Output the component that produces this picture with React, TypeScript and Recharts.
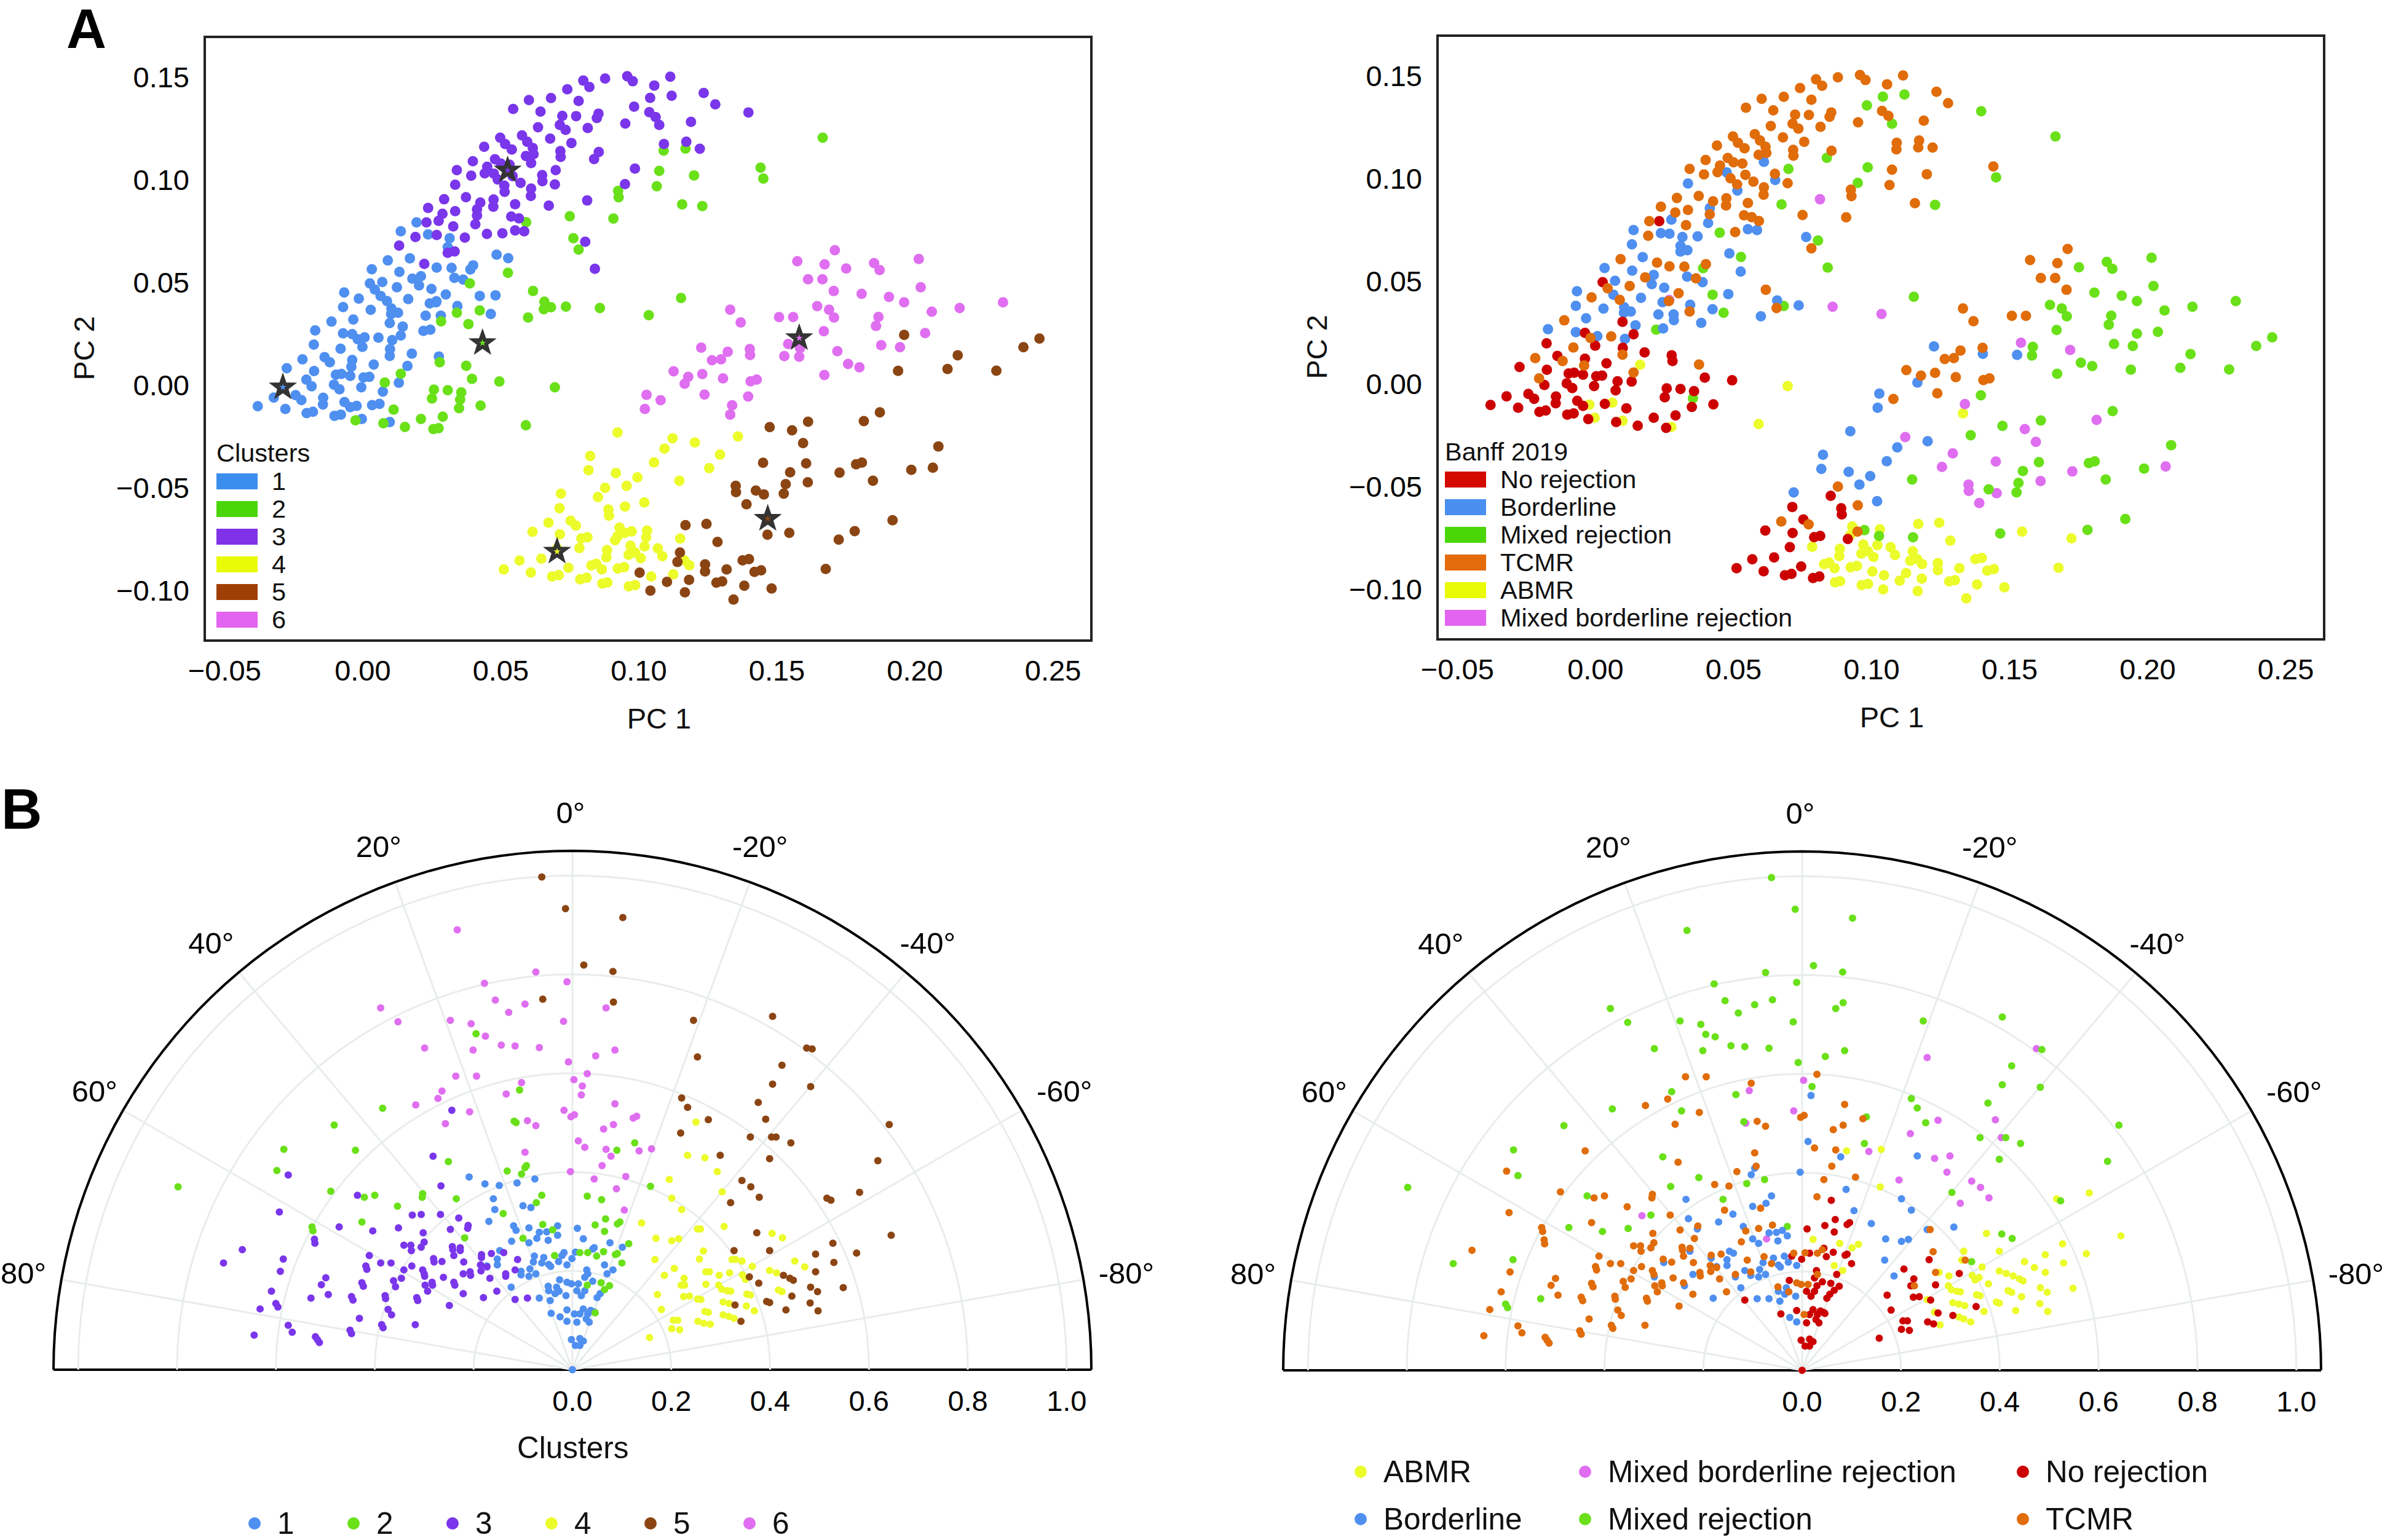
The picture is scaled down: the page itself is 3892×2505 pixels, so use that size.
import { ScatterChart, Scatter, XAxis, YAxis, ReferenceArea, ReferenceDot } from 'recharts';

const FONT = '"Liberation Sans", Arial, sans-serif';

// Banff class codes
const A = 'ABMR';
const B = 'Borderline';
const M = 'Mixed rejection';
const X = 'Mixed borderline rejection';
const N = 'No rejection';
const T = 'TCMR';

type Row = [number, number, string];

// PCA scores per cluster, PC 1 and PC 2 x 10^4, then Banff class
const pcaCluster1: Row[] = [
  [195,791,T],[138,748,B],[237,733,B],[315,714,B],[308,671,B],[171,616,B],[91,606,T],[268,571,T],[322,570,T],[400,582,T],[390,562,M],[485,634,B],[527,617,M],[33,563,B],[133,550,B],[180,517,T],[211,529,B],[204,484,B],[332,521,B],[364,513,T],[71,501,B],[26,494,N],[44,464,T],[124,475,T],[249,467,B],[-67,450,B],[-14,420,T],[65,433,B],[88,408,T],[165,418,B],[301,440,T],[424,433,M],[481,436,B],[267,407,X],[243,397,B],[266,402,T],[-71,379,B],[29,365,B],[104,372,B],[128,351,B],[103,345,B],[343,384,B],[464,345,M],[228,337,B],[283,337,B],[-34,318,B],[-113,308,T],[98,301,N],[145,284,B],[-172,265,B],[-71,251,B],[-38,247,N],[-18,222,T],[7,231,B],[57,230,T],[138,240,N],[220,263,M],[245,269,B],[107,218,B],[-177,196,N],[-80,176,T],[-1,185,N],[99,174,N],[98,141,T],[178,152,N],[276,138,N],[-218,124,T],[-138,135,N],[-119,110,T],[-38,121,N],[-41,88,T],[40,99,N],[162,92,A],[-275,81,N],[-176,67,N],[-97,49,N],[-77,53,N],[-45,43,N],[3,36,N],[24,39,N],[-204,25,T],[-185,-7,N],[-104,1,N],[-84,-22,N],[-5,-12,N],[131,10,N],[73,-33,N],[-243,-50,N],[-222,-74,N],[-322,-62,N],[-143,-63,N],[-144,-96,N],[-66,-84,N],[-45,-109,N],[-22,-103,A],[34,-99,N],[61,-93,A],[-380,-104,N],[-280,-118,N],[-203,-138,N],[-180,-131,N],[-102,-151,N],[-79,-145,N],[-3,-166,A],[98,-181,A],
];
const pcaCluster2: Row[] = [
  [1090,1141,T],[1169,1151,T],[1074,1042,T],[1200,1020,T],[1065,967,T],[925,945,T],[927,913,T],[1157,879,T],[750,821,T],[908,810,T],[592,792,T],[763,714,B],[782,659,T],[526,546,B],[388,494,B],[617,457,T],[1153,423,M],[658,405,B],[682,378,M],[656,368,T],[736,381,B],[859,374,X],[1036,339,X],[424,362,B],[341,351,T],[599,328,B],[284,309,B],[383,296,B],[279,110,N],[375,93,T],[138,54,T],[396,29,N],[495,16,N],[80,11,N],[696,-12,A],[258,-23,N],[308,-26,N],[357,-37,N],[251,-67,N],[353,-72,M],[349,-114,N],[427,-101,N],[112,-121,N],[290,-155,N],[211,-166,N],[-26,-173,N],[75,-187,N],[153,-205,N],[256,-216,N],[275,-211,A],[591,-197,A],[1441,1058,T],[1451,1005,M],[1666,1204,M],[1230,871,M],
];
const pcaCluster3: Row[] = [
  [545,1344,T],[602,1387,T],[682,1397,T],[741,1440,T],[799,1482,T],[821,1451,T],[878,1492,T],[958,1503,T],[978,1479,T],[1056,1458,T],[1114,1501,T],[1041,1398,M],[1119,1408,M],[983,1355,M],[782,1383,T],[644,1331,T],[723,1310,T],[773,1309,T],[854,1321,T],[848,1300,T],[1038,1328,T],[1061,1304,T],[1074,1266,M],[951,1273,T],[1189,1281,T],[635,1255,T],[714,1266,T],[735,1242,T],[815,1251,T],[577,1215,T],[596,1184,T],[679,1199,T],[756,1178,T],[1091,1173,T],[1172,1184,T],[498,1204,T],[516,1173,T],[540,1146,T],[440,1160,T],[616,1154,T],[619,1124,T],[591,1115,T],[716,1139,T],[717,1110,T],[855,1134,T],[838,1100,M],[610,1080,B],[399,1089,T],[479,1099,T],[500,1078,T],[532,1072,T],[451,1062,T],[442,1030,T],[475,1029,B],[341,1046,T],[393,1019,T],[489,1000,T],[543,1017,T],[572,984,T],[650,1022,T],[651,992,B],[699,1046,M],[696,976,T],[986,1053,M],[513,970,T],[514,940,B],[335,975,B],[610,956,T],[609,920,T],[950,978,M],[295,904,T],[374,914,T],[474,903,T],[473,868,T],[426,888,T],[552,880,T],[674,873,M],[813,898,X],[237,862,T],[335,846,T],[414,855,B],[414,825,T],[289,833,T],[275,799,B],[231,791,N],[408,782,B],[328,772,T],[538,820,T],[566,811,T],[191,720,T],[268,730,B],[370,717,B],[450,735,M],[506,738,T],[552,752,B],[585,748,B],[132,678,B],[308,643,B],[333,650,B],[806,697,M],[223,589,T],[841,565,M],[1235,1422,T],[1277,1366,T],[1397,1327,M],[1221,1150,T],
];
const pcaCluster4: Row[] = [
  [923,-232,B],[1122,-261,X],[1203,-281,B],[1359,-252,M],[1093,-311,B],[1294,-340,X],[824,-347,B],[1055,-378,B],[1255,-406,X],[818,-416,B],[917,-430,B],[995,-451,B],[1147,-467,M],[878,-502,T],[956,-492,B],[718,-530,B],[852,-547,N],[1020,-573,B],[950,-593,T],[713,-601,N],[890,-607,N],[892,-637,N],[673,-672,T],[753,-662,N],[772,-686,T],[615,-716,N],[714,-728,N],[792,-748,N],[814,-742,N],[930,-696,A],[949,-721,T],[974,-714,M],[1030,-710,A],[1027,-742,M],[923,-738,A],[914,-757,N],[1150,-749,M],[970,-784,A],[1021,-787,A],[785,-795,A],[704,-797,N],[885,-805,A],[1069,-797,A],[1085,-835,A],[987,-817,A],[963,-828,A],[1007,-845,A],[883,-840,A],[1165,-855,A],[1183,-879,A],[647,-847,N],[568,-856,N],[511,-899,N],[609,-914,N],[745,-891,N],[686,-934,N],[710,-927,N],[828,-880,A],[846,-872,A],[866,-899,A],[924,-895,A],[947,-888,A],[1125,-923,A],[1045,-934,A],[788,-947,N],[811,-940,N],[868,-968,A],[886,-963,A],[964,-982,A],[987,-976,A],
];
const pcaCluster5: Row[] = [
  [1961,243,M],[2451,225,M],[2393,183,M],[2155,144,M],[1939,68,M],[2118,77,M],[2295,69,M],[1873,-134,M],[1815,-177,X],[1613,-180,M],[1474,-206,M],[1555,-222,X],[1595,-284,X],[2085,-300,M],[1450,-380,X],[1606,-383,M],[1787,-387,M],[1808,-379,M],[1727,-428,X],[1987,-414,M],[2065,-404,X],[1548,-426,M],[1848,-467,M],[1612,-475,X],[1532,-484,M],[1351,-492,X],[1352,-523,X],[1424,-515,M],[1453,-534,X],[1525,-530,M],[1390,-582,X],[1919,-660,M],[1782,-713,M],[1724,-754,A],[1545,-721,A],[1466,-730,M],[1169,-684,A],[1245,-678,A],[1285,-765,A],[1677,-897,A],[1149,-817,A],[1140,-863,A],[1240,-875,A],[1240,-909,A],[1318,-899,A],[1376,-855,A],[1399,-849,A],[1419,-911,A],[1443,-904,A],[1003,-915,A],[1182,-950,A],[1102,-960,A],[1281,-964,A],[1302,-958,A],[1382,-979,A],[1481,-992,A],[1042,-1003,A],[1167,-1011,A],[1343,-1046,A],
];
const pcaCluster6: Row[] = [
  [1710,656,T],[1574,602,T],[1673,587,T],[1751,567,M],[1852,593,M],[1872,559,M],[2014,613,M],[1613,514,T],[1665,514,T],[1706,457,T],[1807,443,M],[1906,428,M],[1961,402,M],[2021,475,M],[2061,356,M],[2162,374,M],[2319,402,M],[1646,383,M],[1689,366,M],[1707,328,M],[1868,331,M],[1859,287,M],[1331,366,T],[1369,304,T],[1508,330,T],[1559,330,T],[1670,261,M],[2037,252,M],[1541,199,X],[1584,179,M],[1581,137,M],[1527,140,B],[1719,164,X],[1878,193,M],[1946,183,M],[1758,102,M],[1799,85,M],[1672,48,M],[1226,181,B],[1322,161,T],[1403,145,B],[1402,174,T],[1265,120,T],[1298,124,T],[1126,66,T],[1179,39,T],[1166,5,B],[1230,52,T],[1305,31,T],[1405,17,T],[1427,25,T],[1238,-47,T],[1396,-57,M],[1028,-49,B],[1079,-75,T],[1022,-118,B],[1338,-100,X],[1331,-145,A],
];
// cluster representatives marked with a star, same units
const pcaStars: [number, number, number][] = [
  [-289,-12,1],[434,204,2],[525,1045,3],[704,-812,4],[1467,-652,5],[1581,228,6],
];

// polar panels, projected as r*sin(angle) and r*cos(angle), x 10^3
const polarCluster1: Row[] = [
  [-209,390,M],[-177,376,T],[-148,373,T],[-112,378,M],[-76,386,M],[-160,346,M],[-100,332,B],[-84,328,T],[-157,324,T],[-169,300,B],[-119,291,B],[-114,282,T],[-88,287,T],[-30,291,M],[-67,278,B],[-52,279,B],[-72,266,X],[-30,272,B],[-49,262,B],[-123,260,T],[-88,257,B],[-147,241,B],[-17,237,T],[-21,231,N],[-152,224,B],[-152,212,B],[-173,210,B],[-77,230,T],[-79,218,B],[-58,227,B],[-62,216,T],[-48,213,B],[-44,209,B],[-28,219,B],[-11,212,B],[-1,225,N],[-104,199,T],[-104,192,B],[-86,204,B],[-74,194,B],[-88,189,B],[-49,169,T],[-32,167,B],[-48,160,B],[-35,154,B],[-26,182,N],[-11,177,T],[-2,174,T],[-27,159,T],[-13,150,B],[-124,167,B],[-67,145,B],[-45,140,B],[-11,121,N],[-43,114,N],[-25,107,B],[-11,98,B],[4,113,T],[-2,61,N],[0,0,N],[10,286,N],[22,265,A],[76,257,A],[101,248,A],[41,244,T],[44,247,N],[6,238,T],[65,212,A],[82,202,A],[70,194,N],[29,202,N],[31,194,T],[25,187,N],[41,179,N],[12,174,T],[18,150,N],[25,160,N],[9,160,N],[50,146,N],[56,154,N],[37,120,N],[22,123,N],[31,113,N],[15,113,N],[44,117,N],[9,96,N],[34,96,N],[28,103,N],[15,63,N],[6,49,N],[15,49,N],[22,58,N],
];
const polarCluster2: Row[] = [
  [-195,680,M],[-107,566,X],[-384,529,M],[-482,495,M],[-584,446,M],[-439,444,T],[-598,403,T],[-798,370,M],[-489,361,T],[-421,349,T],[-400,353,T],[-303,356,T],[-304,349,T],[-354,331,T],[-235,346,B],[-426,299,T],[-527,289,T],[-525,281,T],[-118,503,M],[-114,500,X],[-251,421,T],[-132,402,T],[-96,409,B],[-93,413,T],[-103,396,B],[-62,353,B],[-73,338,B],[-140,316,B],[-218,267,T],[-60,294,T],[-40,283,B],[-100,266,B],[-36,231,B],[30,351,T],[59,344,N],[67,305,N],[46,293,N],[65,280,N],[91,295,N],[96,299,N],[114,255,A],[63,239,N],[15,237,N],[31,237,T],[49,230,N],[87,233,N],[91,235,N],[100,216,N],[30,171,N],[58,176,N],[75,170,N],[65,162,N],[46,115,N],[158,371,A],[126,459,M],[90,444,A],
];
const polarCluster3: Row[] = [
  [-244,525,M],[-282,432,M],[-575,394,M],[-266,372,M],[-435,353,M],[-593,319,T],[-324,313,X],[-306,314,M],[-267,314,T],[-230,307,B],[-211,292,T],[-212,286,B],[-472,289,M],[-404,281,M],[-352,287,M],[-302,277,T],[-247,284,T],[-522,264,T],[-521,256,T],[-341,252,T],[-327,252,T],[-300,258,T],[-306,248,T],[-326,241,T],[-243,249,T],[-242,243,T],[-227,247,T],[-227,241,B],[-668,243,T],[-706,216,M],[-585,224,M],[-411,231,T],[-240,231,T],[-184,233,T],[-184,227,B],[-164,235,T],[-139,237,B],[-111,223,T],[-281,225,T],[-280,218,B],[-264,219,T],[-220,218,T],[-388,216,T],[-367,216,T],[-325,210,T],[-418,210,T],[-416,203,T],[-186,212,T],[-173,208,T],[-185,200,T],[-116,202,B],[-135,194,T],[-135,189,B],[-341,202,T],[-303,202,T],[-300,194,T],[-299,189,B],[-591,199,T],[-346,185,T],[-221,194,B],[-207,198,T],[-206,191,T],[-261,187,T],[-167,185,T],[-362,180,T],[-499,186,T],[-426,176,T],[-423,169,T],[-508,172,T],[-240,177,T],[-238,171,B],[-284,177,T],[-283,171,T],[-358,168,T],[-298,171,T],[-293,159,T],[-609,159,T],[-494,152,T],[-529,145,M],[-447,148,T],[-444,141,T],[-379,150,T],[-378,144,T],[-221,154,T],[-180,146,B],[-153,159,T],[-315,146,T],[-313,140,T],[-116,142,N],[-91,145,B],[-249,130,T],[-600,134,M],[-596,127,M],[-632,123,T],[-373,122,T],[-366,111,T],[-431,104,T],[-318,91,T],[-386,91,T],[-383,85,T],[-575,90,T],[-567,76,T],[-450,80,T],[-447,73,T],[-644,70,T],[-520,67,T],[-516,61,T],[-512,55,T],
];
const polarCluster4: Row[] = [
  [250,501,M],[233,434,B],[268,429,X],[293,401,X],[196,385,X],[201,347,B],[221,324,B],[303,360,M],[140,297,B],[307,290,B],[253,285,B],[259,285,T],[404,276,M],[425,267,M],[169,266,B],[201,261,B],[215,265,B],[265,240,T],[257,224,N],[167,223,B],[323,223,A],[330,223,T],[343,220,M],[364,209,A],[450,220,A],[470,208,A],[206,205,N],[186,191,B],[270,198,T],[277,198,A],[226,185,N],[297,191,A],[318,196,N],[344,192,A],[350,183,A],[399,201,A],[413,196,A],[220,171,N],[227,171,T],[270,173,N],[296,171,A],[302,163,A],[313,160,A],[320,159,A],[172,152,N],[225,148,N],[237,149,N],[353,153,A],[360,151,A],[417,161,A],[424,158,A],[253,143,A],[260,142,N],[305,137,A],[317,134,A],[352,129,N],[180,122,N],[268,118,A],[275,116,N],[368,119,A],[204,100,N],[213,100,N],[254,98,N],[266,94,N],[279,92,A],[305,111,N],[317,108,A],[327,104,A],[201,83,N],[217,81,N],[156,65,N],
];
const polarCluster5: Row[] = [
  [-62,997,M],[-14,933,M],[-60,750,M],[102,915,M],[23,819,M],[82,806,M],[83,744,M],[245,707,M],[405,715,M],[253,633,X],[474,651,X],[485,649,M],[424,616,M],[405,578,M],[482,573,M],[221,550,M],[233,531,M],[376,541,M],[275,506,X],[391,507,X],[219,479,X],[641,496,M],[360,471,M],[403,471,X],[412,471,M],[442,459,M],[299,434,X],[399,427,M],[618,423,M],[343,383,X],[361,370,X],[378,349,X],[320,338,X],[581,359,A],[515,347,A],[523,343,M],[373,277,A],[645,272,A],[527,256,A],[327,241,A],[399,241,A],[492,234,A],[575,236,A],[529,217,A],[492,198,A],[427,191,A],[440,185,A],[447,181,A],[358,188,A],[377,175,A],[482,167,A],[496,158,A],[548,166,A],[444,149,A],[393,138,A],[399,136,A],[329,131,A],[481,135,A],[432,121,A],[497,119,A],[341,98,A],
];
const polarCluster6: Row[] = [
  [-233,890,M],[-74,805,M],[-178,782,M],[-11,785,M],[-388,732,M],[-353,704,M],[-156,748,M],[-96,740,M],[-129,723,M],[-18,705,M],[-247,707,M],[-205,700,M],[-176,675,M],[-299,651,M],[-201,647,M],[-144,657,M],[-116,655,M],[-67,652,M],[-8,623,M],[-236,594,T],[-194,594,T],[-103,581,T],[-264,564,M],[-272,549,T],[-134,558,M],[-317,536,T],[-208,522,T],[-257,498,T],[-17,525,X],[-91,504,T],[-74,494,T],[-96,440,T],[-4,401,B],[-3,512,T],[4,516,T],[3,587,X],[20,574,M],[18,556,B],[30,599,T],[47,635,M],[86,647,M],[68,732,M],[86,538,T],[83,496,T],[63,487,T],[123,509,T],[130,513,M],[12,463,B],[25,450,T],[68,446,T],[78,432,B],[60,413,T],[135,443,X],[160,447,A],[44,386,T],[108,391,T],[89,366,B],[105,323,B],
];

// tick labels and legends
const pcaTicksX = [-0.05, 0, 0.05, 0.1, 0.15, 0.2, 0.25];
const pcaTicksY = [-0.1, -0.05, 0, 0.05, 0.1, 0.15];
const radiusTicks = [0, 0.2, 0.4, 0.6, 0.8, 1];
const gridRadii = [0.2, 0.4, 0.6, 0.8, 1];
const angleTicks = [-80, -60, -40, -20, 0, 20, 40, 60, 80];
const clusterNames = ['1', '2', '3', '4', '5', '6'];
const banffLegendOrder = [N, B, M, T, A, X];
const banffDrawOrder = [A, X, M, B, N, T];

const clusterDots = ['#4f8ff0', '#69e018', '#7a36ea', '#ecfb2a', '#8b4513', '#df6ef0'];
const clusterSwatches = ['#3c8eee', '#4bd60a', '#8032e8', '#e9fb06', '#a03f05', '#e264f0'];
const banffDots: Record<string, string> = { [A]: '#ecfb2a', [B]: '#4f8ff0', [M]: '#69e018', [X]: '#df6ef0', [N]: '#cc0000', [T]: '#e06c0a' };
const banffSwatches: Record<string, string> = { [A]: '#e9fb06', [B]: '#4a8ff0', [M]: '#4bd60a', [X]: '#e264f0', [N]: '#d40a00', [T]: '#e56a0a' };

const pcaByCluster = [pcaCluster1, pcaCluster2, pcaCluster3, pcaCluster4, pcaCluster5, pcaCluster6];
const polarByCluster = [polarCluster1, polarCluster2, polarCluster3, polarCluster4, polarCluster5, polarCluster6];

const toPoints = (rows: Row[], unit: number) => rows.map(([x, y, banff]) => ({ x: x / unit, y: y / unit, banff }));

type Series = { key: string; color: string; points: { x: number; y: number; banff: string }[] };

const clusterSeries = (groups: Row[][], unit: number): Series[] =>
  groups.map((rows, i) => ({ key: clusterNames[i], color: clusterDots[i], points: toPoints(rows, unit) }));

const banffSeries = (groups: Row[][], unit: number): Series[] => {
  const all = groups.flatMap((rows) => toPoints(rows, unit));
  return banffDrawOrder.map((b) => ({ key: b, color: banffDots[b], points: all.filter((p) => p.banff === b) }));
};

const fixed2 = (v: number) => (v < 0 ? '\u2212' : '') + Math.abs(v).toFixed(2);

const dotShape = (r: number) => (p: any) => <circle cx={p.cx} cy={p.cy} r={r} fill={p.fill} />;

const starShape = (p: any) => {
  const pts = [];
  for (let i = 0; i < 10; i++) {
    const rad = i % 2 === 0 ? 15 : 6;
    const a = (i * Math.PI) / 5 - Math.PI / 2;
    pts.push(`${p.cx + rad * Math.cos(a)},${p.cy + rad * Math.sin(a)}`);
  }
  return <polygon points={pts.join(' ')} fill={p.payload.color} stroke="#333" strokeWidth={6} strokeLinejoin="miter" />;
};

function PcaPanel({ left, top, series, stars }: { left: number; top: number; series: Series[]; stars?: boolean }) {
  const starData = pcaStars.map(([x, y, c]) => ({ x: x / 1e4, y: y / 1e4, color: clusterDots[c - 1] }));
  return (
    <div style={{ position: 'absolute', left, top }}>
      <ScatterChart width={1900} height={1230} margin={{ top: 60, right: 125, bottom: 88, left: 213 }}>
        <XAxis
          type="number"
          dataKey="x"
          domain={[-0.0572, 0.2639]}
          ticks={pcaTicksX}
          interval={0}
          tickFormatter={fixed2}
          tickLine={false}
          axisLine={false}
          tickSize={0}
          tickMargin={32}
          height={100}
          tick={{ fontSize: 47, fill: '#000', fontFamily: FONT }}
          label={{ value: 'PC 1', position: 'bottom', offset: 10, dx: 18, fontSize: 47, fill: '#111', fontFamily: FONT }}
        />
        <YAxis
          type="number"
          dataKey="y"
          domain={[-0.1246, 0.1695]}
          ticks={pcaTicksY}
          interval={0}
          tickFormatter={fixed2}
          tickLine={false}
          axisLine={false}
          tickSize={0}
          tickMargin={25}
          width={120}
          tick={{ fontSize: 47, fill: '#000', fontFamily: FONT }}
          label={{ value: 'PC 2', angle: -90, position: 'left', offset: 77, dy: -37, fontSize: 47, fill: '#111', fontFamily: FONT }}
        />
        <ReferenceArea x1={-0.0572} x2={0.2639} y1={-0.1246} y2={0.1695} fill="none" stroke="#222" strokeWidth={4} />
        {series.map((s) => (
          <Scatter key={s.key} name={s.key} data={s.points} fill={s.color} shape={dotShape(8.5)} isAnimationActive={false} />
        ))}
        {stars && <Scatter name="medoids" data={starData} shape={starShape} isAnimationActive={false} />}
      </ScatterChart>
    </div>
  );
}

const arc = (r: number) => {
  const pts = [];
  for (let a = -90; a <= 90; a += 2) {
    const t = (a * Math.PI) / 180;
    pts.push({ x: r * Math.sin(t), y: Math.max(0, r * Math.cos(t)) });
  }
  return pts;
};

const spoke = (deg: number) => {
  const t = (deg * Math.PI) / 180;
  return [{ x: 0, y: 0 }, { x: -1.05 * Math.sin(t), y: 1.05 * Math.cos(t) }];
};

const noDot = () => null;

// small sideways nudges so the angle labels sit as in the figure
const angleNudge: Record<number, number> = { 0: -3, 20: -5, 40: -5, 60: 8, 80: 0, '-20': -5, '-40': -5, '-60': 15, '-80': 8 };

function PolarPanel({ left, top, series }: { left: number; top: number; series: Series[] }) {
  return (
    <div style={{ position: 'absolute', left, top }}>
      <ScatterChart width={1900} height={1255} margin={{ top: 134, right: 125, bottom: 197, left: 87 }}>
        <XAxis
          type="number"
          dataKey="x"
          domain={[-1.05, 1.05]}
          ticks={radiusTicks}
          interval={0}
          tickFormatter={(v: number) => v.toFixed(1)}
          tickLine={false}
          tickSize={0}
          tickMargin={34}
          height={80}
          axisLine={{ stroke: '#000', strokeWidth: 4 }}
          tick={{ fontSize: 47, fill: '#000', fontFamily: FONT }}
        />
        <YAxis type="number" dataKey="y" domain={[0, 1.05]} hide />
        {gridRadii.map((r) => (
          <Scatter key={`ring${r}`} data={arc(r)} line={{ stroke: '#e8edec', strokeWidth: 3 }} lineType="joint" shape={noDot} isAnimationActive={false} />
        ))}
        {angleTicks.map((a) => (
          <Scatter key={`spoke${a}`} data={spoke(a)} line={{ stroke: '#e8edec', strokeWidth: 3 }} lineType="joint" shape={noDot} isAnimationActive={false} />
        ))}
        <Scatter data={arc(1.05)} line={{ stroke: '#000', strokeWidth: 4 }} lineType="joint" shape={noDot} isAnimationActive={false} />
        {series.map((s) => (
          <Scatter key={s.key} name={s.key} data={s.points} fill={s.color} shape={dotShape(6)} isAnimationActive={false} />
        ))}
        {angleTicks.map((a) => {
          const t = (a * Math.PI) / 180;
          return (
            <ReferenceDot
              key={a}
              x={-1.128 * Math.sin(t)}
              y={1.128 * Math.cos(t)}
              ifOverflow="visible"
              shape={(p: any) => (
                <text x={p.cx + angleNudge[a]} y={p.cy} dy="0.36em" textAnchor="middle" fontSize={49} fill="#000" fontFamily={FONT}>
                  {`${a}\u00b0`}
                </text>
              )}
            />
          );
        })}
      </ScatterChart>
    </div>
  );
}

const textAt = (x: number, y: number, size: number, s: string, extra: any = {}) => (
  <div
    key={`${s}${x}${y}`}
    style={{ position: 'absolute', left: x, top: y - size / 2, height: size, lineHeight: `${size}px`, fontSize: size, fontFamily: FONT, color: '#111', whiteSpace: 'nowrap', ...extra }}
  >
    {s}
  </div>
);

function SwatchKey({ x, y, titleY, title, names, colors }: { x: number; y: number; titleY: number; title: string; names: string[]; colors: string[] }) {
  return (
    <>
      {textAt(x, titleY, 41.5, title)}
      {names.map((n, i) => (
        <div key={n}>
          <div style={{ position: 'absolute', left: x, top: y + i * 45 - 13, width: 67, height: 26, background: colors[i] }} />
          {textAt(x + 90, y + i * 45, 41.5, n)}
        </div>
      ))}
    </>
  );
}

function DotKey({ items }: { items: { x: number; y: number; label: string; color: string }[] }) {
  return (
    <>
      {items.map((it) => (
        <div key={it.label}>
          <div style={{ position: 'absolute', left: it.x - 10, top: it.y - 10, width: 20, height: 20, borderRadius: 10, background: it.color }} />
          {textAt(it.x + 37, it.y, 49.5, it.label)}
        </div>
      ))}
    </>
  );
}

const clusterDotKey = clusterNames.map((label, i) => ({ label, x: 414 + i * 161, y: 2478, color: clusterDots[i] }));
const banffDotKey = [
  { label: A, x: 2213, y: 2394 },
  { label: X, x: 2578, y: 2394 },
  { label: N, x: 3290, y: 2394 },
  { label: B, x: 2213, y: 2471 },
  { label: M, x: 2578, y: 2471 },
  { label: T, x: 3290, y: 2471 },
].map((d) => ({ ...d, color: banffDots[d.label] }));

export default function App() {
  return (
    <div style={{ position: 'absolute', left: 0, top: 0, width: 3892, height: 2505, background: '#fff', overflow: 'hidden' }}>
      <PcaPanel left={0} top={0} series={clusterSeries(pcaByCluster, 1e4)} stars />
      <PcaPanel left={2005} top={-2} series={banffSeries(pcaByCluster, 1e4)} />
      <PolarPanel left={0} top={1250} series={clusterSeries(polarByCluster, 1e3)} />
      <PolarPanel left={2000} top={1251} series={banffSeries(polarByCluster, 1e3)} />

      {textAt(108, 47, 90, 'A', { fontWeight: 700, color: '#000' })}
      {textAt(2, 1316, 92, 'B', { fontWeight: 700, color: '#000' })}

      <SwatchKey x={352} y={783} titleY={737} title="Clusters" names={clusterNames} colors={clusterSwatches} />
      <SwatchKey x={2350} y={780} titleY={735} title="Banff 2019" names={banffLegendOrder} colors={banffLegendOrder.map((b) => banffSwatches[b])} />

      {textAt(841, 2355, 49.5, 'Clusters')}
      <DotKey items={clusterDotKey} />
      <DotKey items={banffDotKey} />
    </div>
  );
}
